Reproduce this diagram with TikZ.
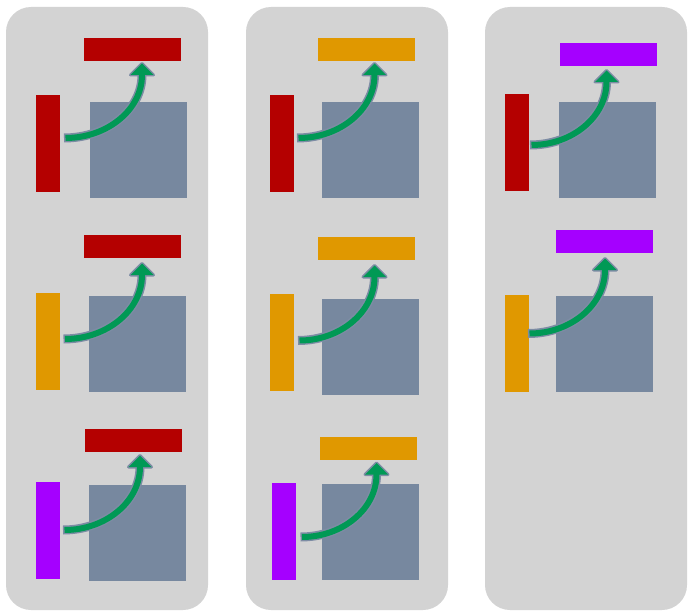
\documentclass[tikz,border=0pt]{standalone}
\usetikzlibrary{calc}
\definecolor{panelgray}{HTML}{D3D3D3}
\definecolor{cred}{HTML}{B40000}
\definecolor{corange}{HTML}{E09800}
\definecolor{cpurple}{HTML}{A500FF}
\definecolor{slate}{HTML}{77889F}
\definecolor{edge}{HTML}{7D8CA4}
\definecolor{arrowgreen}{HTML}{009955}
\tikzset{
  panel/.style={fill=panelgray, rounded corners=25pt, inner sep=0pt, outer sep=0pt, anchor=north west, minimum width=202pt, minimum height=603pt},
  bar/.style={inner sep=0pt, outer sep=0pt, anchor=north west},
  vbar/.style={bar, minimum width=23.5pt, minimum height=97pt},
  hbar/.style={bar, minimum width=97pt, minimum height=23pt},
  block/.style={bar, fill=slate, minimum width=97pt, minimum height=96pt},
  shaftout/.style={edge, line width=9pt},
  shaftin/.style={arrowgreen, line width=6pt, shorten <=1.5pt},
  headout/.style={draw=edge, fill=edge, line width=3pt, line join=round},
  headin/.style={fill=arrowgreen},
}
\newcommand\greenarrow[2]{%
  \path let \p1=(#1), \p2=(#2) in
    coordinate (#1K) at (\x2,\y1)
    coordinate (#1B) at (\x2,\y2-13pt)
    coordinate (#1H) at (\x2,\y2-6pt)
    coordinate (#1L) at (\x2-11.5pt,\y2-13pt)
    coordinate (#1R) at (\x2+11.5pt,\y2-13pt)
    coordinate (#1A) at (\x2,\y2-1.5pt);
  \filldraw[headout] (#1L) -- (#1A) -- (#1R) -- cycle;
  \draw[shaftout] (#1) .. controls ($(#1)!0.5523!(#1K)$) and ($(#1B)!0.5523!(#1K)$) .. (#1B) -- (#1H);
  \fill[headin] (#1L) -- (#1A) -- (#1R) -- cycle;
  \draw[shaftin] (#1) .. controls ($(#1)!0.5523!(#1K)$) and ($(#1B)!0.5523!(#1K)$) .. (#1B) -- (#1H);
}
\newcommand\arrowcell[8]{%
  \node[block] (#1sq) at (#6) {};
  \node[vbar, fill=#2] (#1l) at (#4) {};
  \node[hbar, fill=#3] (#1t) at (#5) {};
  \coordinate (#1s) at (#7);
  \coordinate (#1e) at (#8);
  \greenarrow{#1s}{#1e}
}
\begin{document}
\begin{tikzpicture}[x=1pt, y=-1pt]
  \useasboundingbox (0,0) rectangle (694,615);
  \fill[white] (0,0) rectangle (694,615);
  \node[panel] (p1) at (6,7) {};
  \node[panel] (p2) at (246,7) {};
  \node[panel] (p3) at (485,7) {};
  \arrowcell{a}{cred}{cred}{36,95}{84,38}{90,102}{64,138}{142,62}
  \arrowcell{b}{corange}{cred}{36,293}{84,235}{89,296}{63.5,339}{142,262}
  \arrowcell{c}{cpurple}{cred}{36,482}{85,429}{89,485}{63,530}{140,454}
  \arrowcell{d}{cred}{corange}{270,95}{318,38}{322,102}{297,138}{374.5,62}
  \arrowcell{e}{corange}{corange}{270,294}{318,237}{322,299}{298,340.5}{374.5,264}
  \arrowcell{f}{cpurple}{corange}{272,483}{320,437}{322,484}{300.5,537}{376.5,461.5}
  \arrowcell{g}{cred}{cpurple}{505,94}{560,43}{559,102}{530,145}{606.5,69}
  \arrowcell{h}{corange}{cpurple}{505,295}{556,230}{556,296}{528,333.5}{605,257}
\end{tikzpicture}
\end{document}
